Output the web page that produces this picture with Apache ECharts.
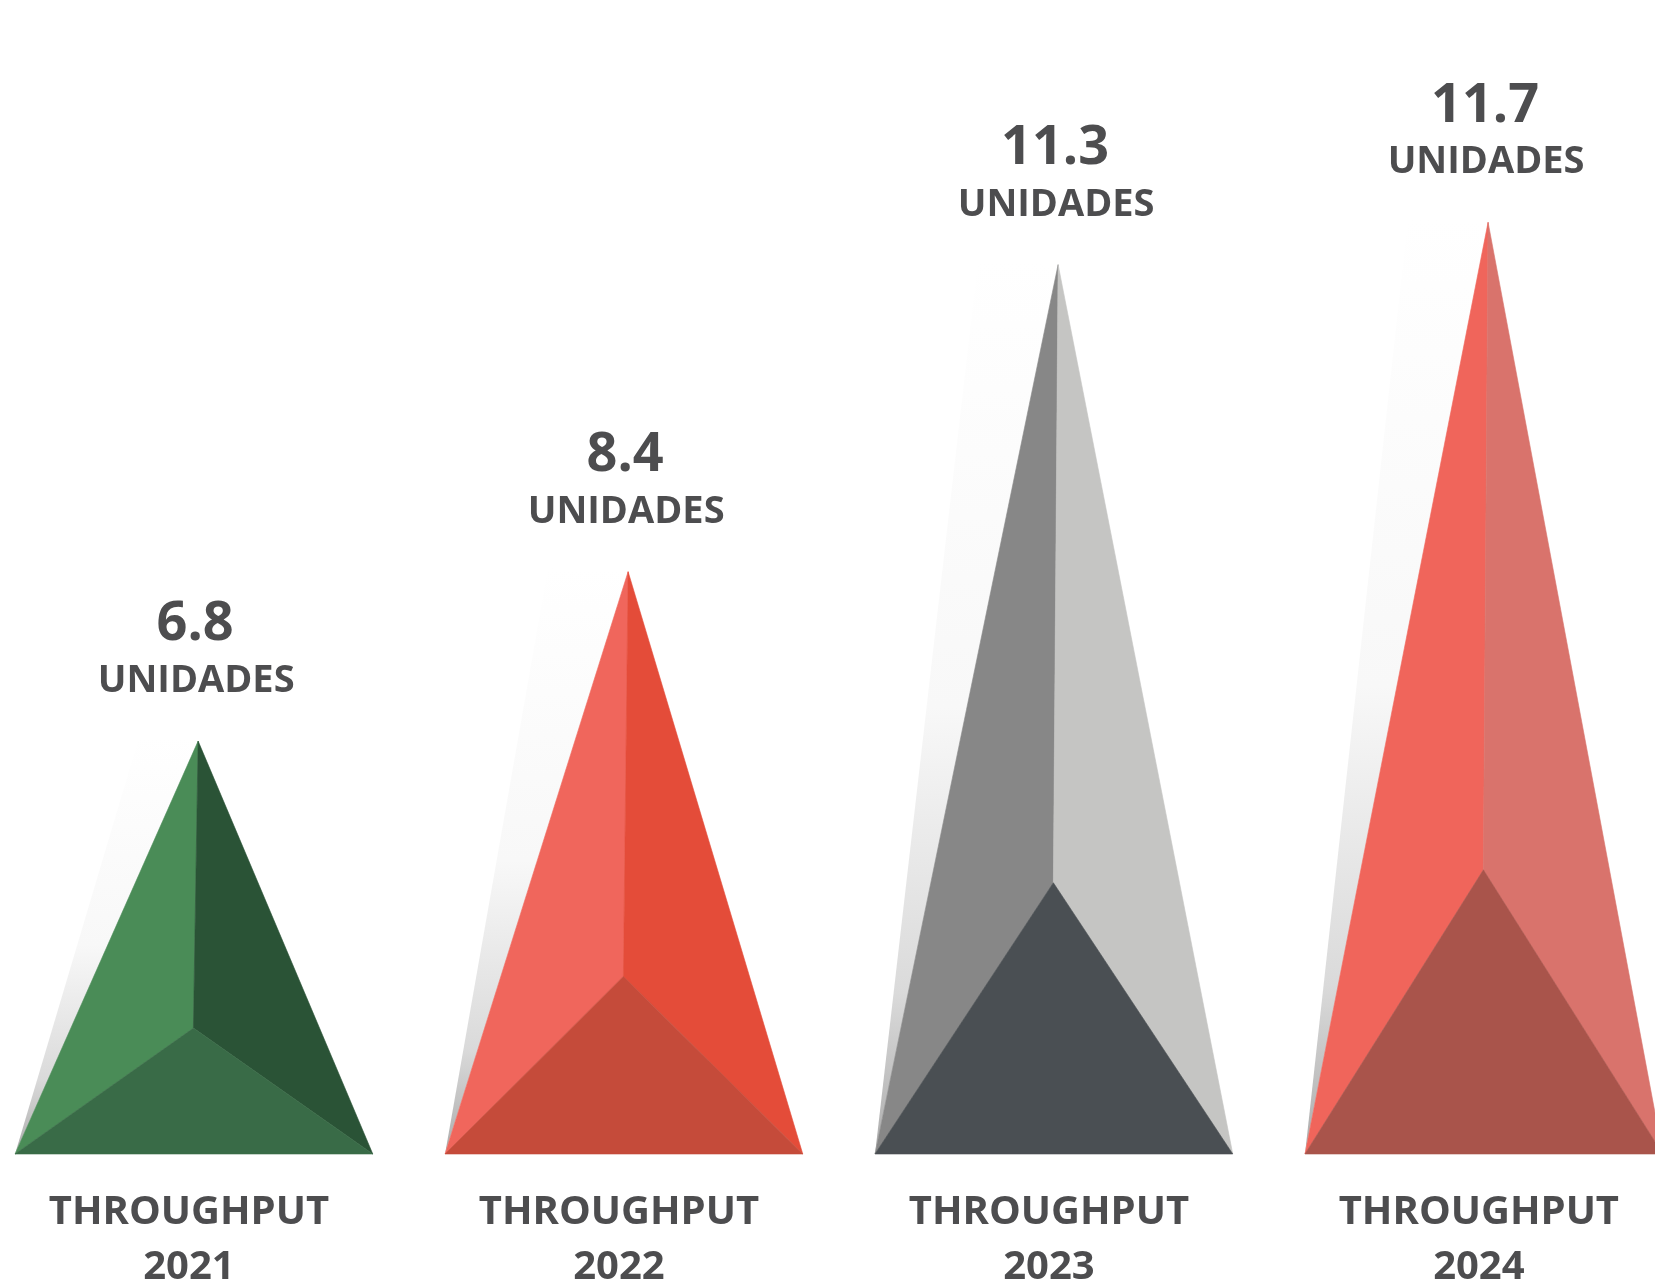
<!DOCTYPE html>
<html>
<head>
<meta charset="utf-8">
<script src="https://cdn.jsdelivr.net/npm/echarts@6/dist/echarts.min.js"></script>
<style>
html,body{margin:0;padding:0;background:#ffffff;}
#chart{width:1655px;height:1283px;}
</style>
</head>
<body>
<div id="chart"></div>
<script>
// ---- data ----
const years = ['2021', '2022', '2023', '2024'];
const throughputValues = [6.8, 8.4, 11.3, 11.7];
const unitText = 'UNIDADES';
const categoryPrefix = 'THROUGHPUT';

// ---- styles ----
const faceColors = [
  { left: '#4a8c57', right: '#2a5336', bottom: '#396b47' },
  { left: '#f0665c', right: '#e44c39', bottom: '#c54b3a' },
  { left: '#878787', right: '#c5c5c3', bottom: '#4a4f53' },
  { left: '#f0655b', right: '#d9736c', bottom: '#a9544b' }
];
const textColor = '#4d4d4f';
const fontFamily = '"Open Sans", "Noto Sans", sans-serif';

const chart = echarts.init(document.getElementById('chart'), null, { renderer: 'canvas' });

function renderItem(params, api) {
  const idx = api.value(0);
  const val = api.value(1);
  const top = api.coord([idx, val]);
  const cs = params.coordSys;
  const baseY = cs.y + cs.height;
  const unitW = api.size([1, 0])[0];
  const halfW = unitW * 0.416;
  const cx = top[0];
  const h = baseY - top[1];
  const apex = [cx + unitW * 0.0098, top[1]];
  const inner = [cx - 0.5, baseY - 0.305 * h];
  const bl = [cx - halfW, baseY];
  const br = [cx + halfW, baseY];
  const sdx = 80 * Math.min(1, h / 560);
  const shadowTop = [apex[0] - sdx, apex[1] - 4];
  const col = faceColors[idx];
  const face = (pts, c) => ({
    type: 'polygon',
    shape: { points: pts },
    style: { fill: c, stroke: c, lineWidth: 0.6 }
  });
  const txt = (s, x, y, size) => ({
    type: 'text',
    x: x,
    y: y,
    style: {
      text: s,
      fill: textColor,
      font: 'bold ' + size + 'px ' + fontFamily,
      align: 'center',
      verticalAlign: 'middle'
    }
  });
  return {
    type: 'group',
    children: [
      {
        type: 'polygon',
        shape: { points: [shadowTop, apex, bl] },
        style: {
          fill: {
            type: 'linear', x: 0, y: 0, x2: 0, y2: 1,
            colorStops: [
              { offset: 0, color: 'rgba(255,255,255,1)' },
              { offset: 0.5, color: 'rgba(248,248,248,1)' },
              { offset: 0.82, color: 'rgba(218,218,218,1)' },
              { offset: 1, color: 'rgba(172,172,172,1)' }
            ]
          }
        }
      },
      face([apex, bl, inner], col.left),
      face([apex, inner, br], col.right),
      face([bl, inner, br], col.bottom),
      txt(String(val), apex[0] - 3, apex[1] - 116, 54),
      txt(unitText, apex[0] - 2, apex[1] - 60, 38),
      txt(categoryPrefix, cx - 5, baseY + 59, 40),
      txt(years[idx], cx - 5, baseY + 114, 40)
    ]
  };
}

const option = {
  animation: false,
  backgroundColor: '#ffffff',
  grid: { left: 0, right: 0, top: 0, bottom: 129, containLabel: false },
  xAxis: { type: 'value', min: -0.451, max: 3.398, show: false },
  yAxis: { type: 'value', min: 2.9, max: 13.8, show: false },
  series: [{
    type: 'custom',
    clip: false,
    data: throughputValues.map((v, i) => [i, v]),
    renderItem: renderItem
  }]
};
chart.setOption(option);
</script>
</body>
</html>
